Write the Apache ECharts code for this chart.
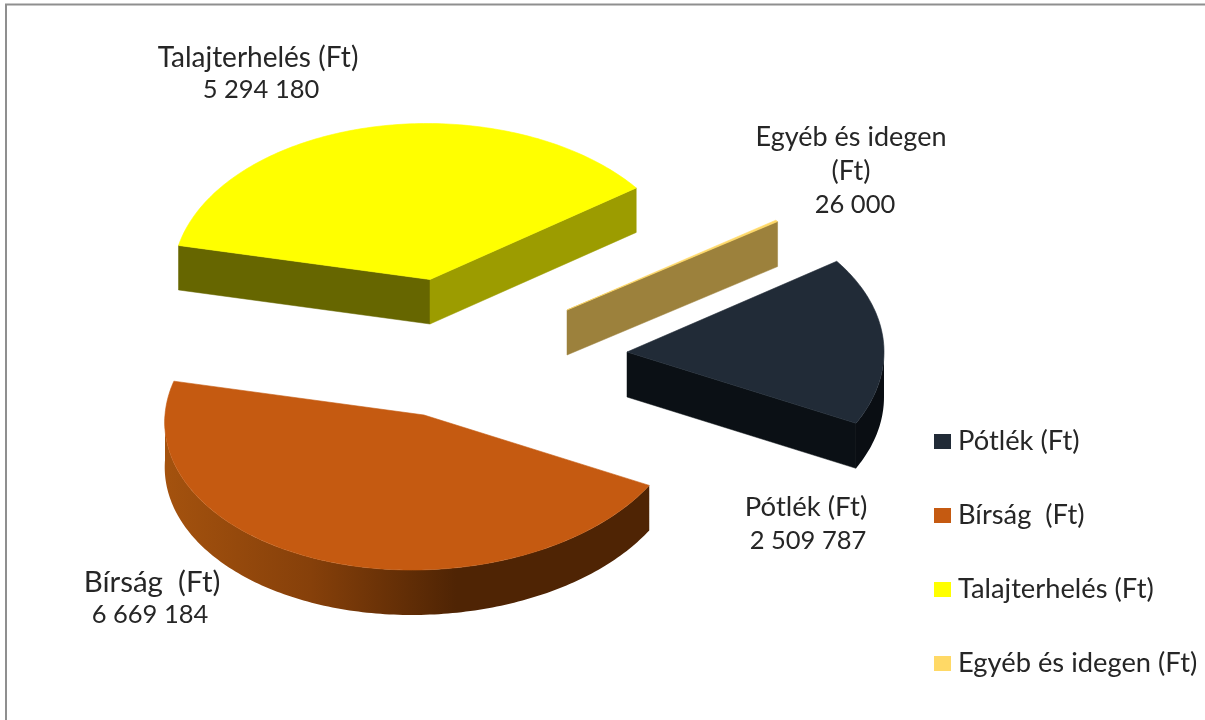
<!DOCTYPE html>
<html><head><meta charset="utf-8">
<style>html,body{margin:0;padding:0;background:#fff}#c{width:1205px;height:720px}</style>
<script src="https://cdn.jsdelivr.net/npm/echarts@6/dist/echarts.min.js"></script>
</head><body><div id="c"></div>
<script>
const categories = ['Pótlék (Ft)', 'Bírság  (Ft)', 'Talajterhelés (Ft)', 'Egyéb és idegen (Ft)'];
const values = [2509787, 6669184, 5294180, 26000];
const legendColors = ['#212b37', '#c55a11', '#ffff00', '#ffd966'];

const FONT = 'Lato, "Open Sans", sans-serif';
const TEXT = '#262626';
const START = -35.3;
const total = values.reduce((a, b) => a + b, 0);
const fmt = v => String(v).replace(/\B(?=(\d{3})+$)/g, ' ');

// presentation of each slice: apex position, radii, perspective shear, face colours, label placement
const looks = [
  { cx: 627, cy: 352, rx: 257, ry: 157, k: 0, d: 45, wallA: null, wallB: '#0b1015',
    outer: '#0a0e13', lx: 806, numX: 808, ly: [507, 541], size: 27.5, title: ['Pótlék (Ft)'] },
  { cx: 424, cy: 415, rx: 259, ry: 155, k: -0.078, d: 45, wallA: null, wallB: null,
    outer: { type: 'linear', x: 165, y: 0, x2: 650, y2: 0, global: true, colorStops: [
      { offset: 0, color: '#a4520e' }, { offset: 0.3, color: '#86400a' },
      { offset: 0.6, color: '#4f2404' }, { offset: 1, color: '#4f2404' }] },
    lx: 152, numX: 150, ly: [582, 615], size: 29.5, title: ['Bírság  (Ft)'] },
  { cx: 430, cy: 279.5, rx: 257, ry: 156, k: 0.02, d: 44.5, wallA: '#666600', wallB: '#9c9c00',
    outer: null, lx: 258, numX: 261, ly: [58, 90], size: 28, title: ['Talajterhelés (Ft)'] },
  { cx: 567, cy: 310, rx: 258, ry: 153, k: 0, d: 45, wallA: null, wallB: '#9c813c',
    outer: null, lx: 851, numX: 855, ly: [137, 171, 205], size: 27, title: ['Egyéb és idegen', '(Ft)'] }
];

function arc(l, a, b, dy) {
  const pts = [], n = Math.max(2, Math.ceil(Math.abs(b - a)) + 1);
  for (let i = 0; i < n; i++) {
    const t = (a + (b - a) * i / (n - 1)) * Math.PI / 180;
    const sy = l.ry * Math.sin(t);
    pts.push([l.cx + l.rx * Math.cos(t) + l.k * sy, l.cy + sy + dy]);
  }
  return pts;
}
function wall(l, t, fill) {
  const e = arc(l, t, t, 0)[0];
  return { type: 'polygon', shape: { points: [[l.cx, l.cy], e, [e[0], e[1] + l.d], [l.cx, l.cy + l.d]] },
    style: { fill, stroke: fill, lineWidth: 0.5 } };
}
function label(text, x, y, size) {
  return { type: 'text', x, y, style: { text, fill: TEXT, font: size + 'px ' + FONT,
    align: 'center', verticalAlign: 'middle' } };
}
function renderSlice(index) {
  return function (params, api) {
    const value = api.value(0);
    let before = 0;
    for (let i = 0; i < index; i++) before += values[i];
    const a = START + before / total * 360, b = a + value / total * 360;
    const l = looks[index], children = [];
    if (l.wallA) children.push(wall(l, a, l.wallA));
    if (l.wallB) children.push(wall(l, b, l.wallB));
    if (l.outer) {
      const from = Math.max(a, 0), to = Math.min(b, 180);
      children.push({ type: 'polygon', shape: { points: arc(l, from, to, 0).concat(arc(l, to, from, l.d)) },
        style: { fill: l.outer } });
    }
    const color = api.visual('color');
    children.push({ type: 'polygon', shape: { points: [[l.cx, l.cy]].concat(arc(l, a, b, 0)) },
      style: { fill: color, stroke: color, lineWidth: 0.6 } });
    l.title.forEach((t, i) => children.push(label(t, l.lx, l.ly[i], l.size)));
    children.push(label(fmt(value), l.numX, l.ly[l.title.length], 25.5));
    return { type: 'group', children };
  };
}

const chart = echarts.init(document.getElementById('c'), null, { renderer: 'canvas' });
chart.setOption({
  animation: false,
  backgroundColor: '#fff',
  tooltip: { show: false },
  legend: {
    orient: 'vertical', left: 929, top: 421.5, itemWidth: 17, itemHeight: 15, itemGap: 44,
    icon: 'rect', selectedMode: false, data: categories,
    textStyle: { fontFamily: FONT, fontSize: 27.3, color: TEXT, height: 30, lineHeight: 30, padding: [0, 0, 0, 2] }
  },
  graphic: [{ type: 'rect', silent: true, shape: { x: 6, y: 4.5, width: 1400, height: 900 },
    style: { fill: 'none', stroke: '#8f8f8f', lineWidth: 2 } }],
  series: categories.map((name, i) => ({
    type: 'custom', name, coordinateSystem: 'none', silent: true,
    itemStyle: { color: legendColors[i] },
    data: [[values[i]]], renderItem: renderSlice(i)
  }))
});
</script></body></html>
